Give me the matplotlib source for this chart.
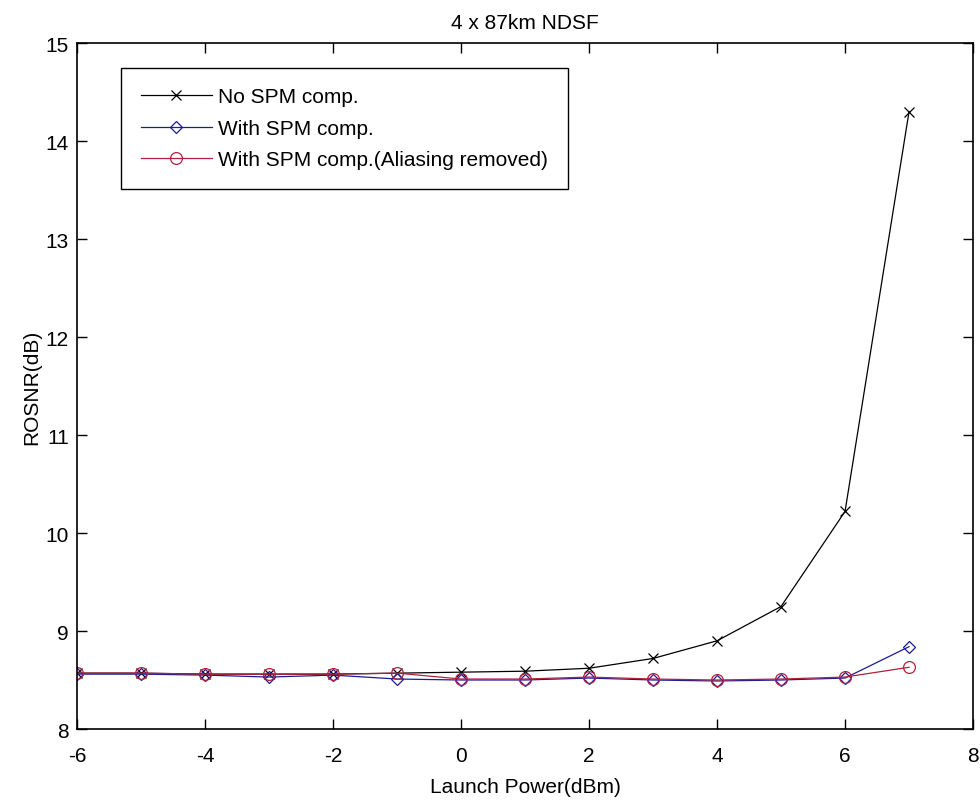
import numpy as np
import matplotlib
matplotlib.use("Agg")
import matplotlib.pyplot as plt

# launch power (dBm)
power = [-6, -5, -4, -3, -2, -1, 0, 1, 2, 3, 4, 5, 6, 7]

# ROSNR (dB)
no_spm = [8.57, 8.57, 8.56, 8.56, 8.56, 8.57, 8.58, 8.59, 8.62, 8.72, 8.90, 9.25, 10.22, 14.30]
with_spm = [8.56, 8.56, 8.55, 8.53, 8.55, 8.51, 8.50, 8.50, 8.52, 8.50, 8.49, 8.50, 8.52, 8.84]
with_spm_alias = [8.57, 8.57, 8.56, 8.56, 8.56, 8.57, 8.51, 8.51, 8.53, 8.51, 8.50, 8.51, 8.53, 8.63]

series_labels = ["No SPM comp.", "With SPM comp.", "With SPM comp.(Aliasing removed)"]

plt.rcParams['font.family'] = ['Liberation Sans', 'DejaVu Sans']
plt.rcParams['axes.unicode_minus'] = False

fig = plt.figure(figsize=(9.8, 8.03), dpi=100)
ax = fig.add_axes([0.0786, 0.0909, 0.9143, 0.8543])

ax.plot(power, no_spm, color='black', marker='x', ms=7, mew=0.9, lw=0.9, label=series_labels[0])
ax.plot(power, with_spm, color='#1c1c96', marker='D', ms=6, mfc='none', mew=0.9, lw=0.9, label=series_labels[1])
ax.plot(power, with_spm_alias, color='#b3203c', marker='o', ms=8.5, mfc='none', mew=0.9, lw=0.9, label=series_labels[2])

ax.set_xlim(-6, 8)
ax.set_ylim(8, 15)
ax.set_xticks(np.arange(-6, 9, 2))
ax.set_yticks(np.arange(8, 16, 1))
ax.tick_params(direction='in', length=7, width=1, labelsize=15, top=True, right=True,
               labeltop=False, labelright=False)
ax.tick_params(axis='x', pad=12)
ax.tick_params(axis='y', pad=6)
for s in ax.spines.values():
    s.set_linewidth(1.2)

ax.set_xlabel("Launch Power(dBm)", fontsize=15, labelpad=9)
ax.set_ylabel("ROSNR(dB)", fontsize=15, labelpad=3)
ax.set_title("4 x 87km NDSF", fontsize=15, pad=11)

leg = ax.legend(loc='upper left', bbox_to_anchor=(0.049, 0.964), borderaxespad=0,
                fontsize=15, handlelength=3.4, handletextpad=0.33, labelspacing=0.6,
                fancybox=False, framealpha=1, edgecolor='black', borderpad=0.95)
leg.get_frame().set_linewidth(1.0)

fig.savefig("out.png", dpi=100)
